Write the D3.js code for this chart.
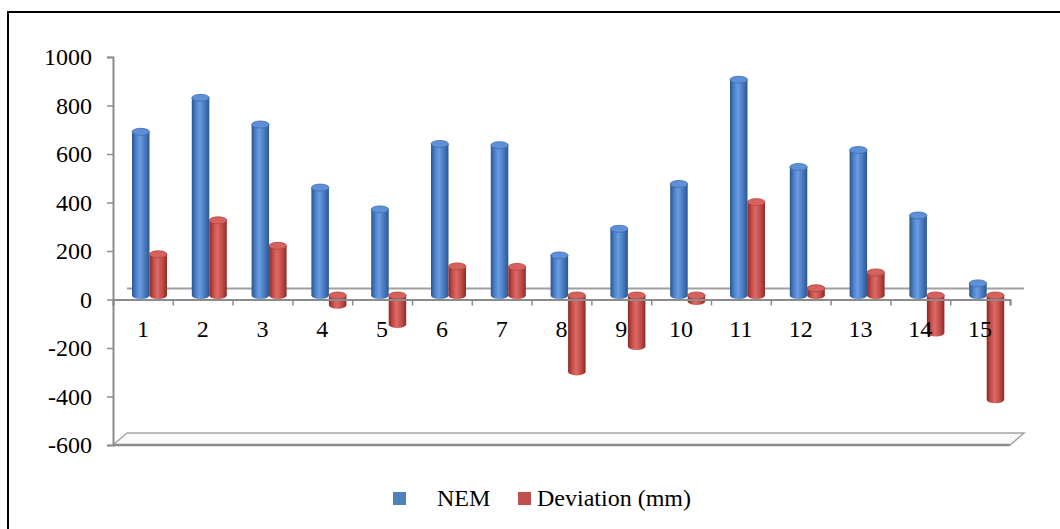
<!DOCTYPE html>
<html>
<head>
<meta charset="utf-8">
<script src="https://cdn.jsdelivr.net/npm/d3@7"></script>
<style>
  body { margin: 0; background: #fff; }
  svg { display: block; font-family: "Liberation Serif", "Times New Roman", serif; }
</style>
</head>
<body>
<svg id="chart" width="1060" height="529"></svg>
<script>
// data
const categories = ["1","2","3","4","5","6","7","8","9","10","11","12","13","14","15"];
const nem = [675, 815, 705, 445, 355, 625, 620, 165, 275, 460, 890, 530, 600, 330, 50];
const deviation = [170, 310, 205, -40, -120, 120, 118, -315, -210, -25, 385, 30, 95, -155, -430];
const yTicks = [-600, -400, -200, 0, 200, 400, 600, 800, 1000];
const seriesNames = ["NEM", "Deviation (mm)"];
const seriesColors = ["#4f81bd", "#c0504d"];

const svg = d3.select("#chart");
const W = 1060, H = 529;

// frame
svg.append("path")
    .attr("d", `M8,${H} L8,12 L${W},12`)
    .attr("fill", "none")
    .attr("stroke", "#000")
    .attr("stroke-width", 2);

let y = d3.scaleLinear().domain([-600, 1000]).range([445, 57]);
let yBar = d3.scaleLinear().domain(y.domain()).range(y.range().map(r => r - 4));
let x0 = d3.scaleBand().domain(categories).range([113, 1010]);
let x1 = d3.scaleBand().domain(seriesNames).range([19, 54]);
let xi = d3.scaleLinear().domain([0, categories.length]).range([113, 1010]);

// gradients
let defs = svg.append("defs");
function grad(id, stops) {
    let g = defs.append("linearGradient").attr("id", id)
        .attr("x1", "0%").attr("x2", "100%").attr("y1", "0%").attr("y2", "0%");
    stops.forEach(s => g.append("stop").attr("offset", s[0]).attr("stop-color", s[1]));
}
grad("g0", [["0%", "#2a5590"], ["25%", "#4f84cc"], ["45%", "#6a9de0"], ["75%", "#4677bd"], ["100%", "#2b5792"]]);
grad("g1", [["0%", "#8c2825"], ["25%", "#c9504c"], ["45%", "#dc6a66"], ["75%", "#bf4a46"], ["100%", "#8e2b28"]]);
const capColors = ["#5d90d6", "#d6625e"];

// floor slab
let dx = 14, dy = -12;
svg.append("path")
    .attr("d", `M${xi(0)},445 L${xi(15)},445 L${xi(15) + dx},${445 + dy} L${xi(0) + dx},${445 + dy} Z`)
    .attr("fill", "#fafafa")
    .attr("stroke", "#a6a6a6")
    .attr("stroke-width", 1.5);
svg.append("line")
    .attr("x1", xi(0)).attr("x2", xi(15))
    .attr("y1", 445).attr("y2", 445)
    .attr("stroke", "#8c8c8c").attr("stroke-width", 2.5);

// back-wall zero line
svg.append("line")
    .attr("x1", xi(0) + dx).attr("x2", xi(15) + dx)
    .attr("y1", y(0) + dy + 1).attr("y2", y(0) + dy + 1)
    .attr("stroke", "#a0a0a0").attr("stroke-width", 2);

// y axis
let yAxis = svg.append("g")
    .attr("transform", "translate(113,0)")
    .call(d3.axisLeft(y).tickValues(yTicks).tickFormat(d => String(d)).tickSize(6).tickPadding(15));
yAxis.select(".domain").attr("stroke", "#8c8c8c").attr("stroke-width", 2);
yAxis.selectAll(".tick line").attr("stroke", "#8c8c8c").attr("stroke-width", 1.5);
yAxis.selectAll(".tick text")
    .attr("font-family", "Liberation Serif").attr("font-size", 24).attr("fill", "#000");

// bars (cylinders)
const ry = 3.5;
let bars = svg.append("g");
categories.forEach((c, i) => {
    [nem[i], deviation[i]].forEach((v, s) => {
        let w = x1.bandwidth();
        let left = x0(c) + x1(seriesNames[s]);
        let cx = left + w / 2;
        let yTop = yBar(Math.max(v, 0));
        let yBot = yBar(Math.min(v, 0));
        let g = bars.append("g");
        g.append("ellipse")
            .attr("cx", cx).attr("cy", yBot).attr("rx", w / 2).attr("ry", ry)
            .attr("fill", `url(#g${s})`);
        g.append("rect")
            .attr("x", left).attr("y", yTop).attr("width", w).attr("height", Math.max(0, yBot - yTop))
            .attr("fill", `url(#g${s})`);
        g.append("ellipse")
            .attr("cx", cx).attr("cy", yTop).attr("rx", w / 2).attr("ry", ry)
            .attr("fill", capColors[s])
            .attr("stroke", s === 0 ? "#3e6eae" : "#b4423e").attr("stroke-width", 0.8);
    });
});

// category axis (front)
let tickAxis = svg.append("g")
    .attr("transform", `translate(0,${y(0)})`)
    .call(d3.axisBottom(xi).tickValues(d3.range(categories.length + 1)).tickFormat("").tickSize(6));
tickAxis.select(".domain").attr("stroke", "#8c8c8c").attr("stroke-width", 2);
tickAxis.selectAll(".tick line").attr("stroke", "#8c8c8c").attr("stroke-width", 1.5);

let catAxis = svg.append("g")
    .attr("transform", `translate(0,${y(0)})`)
    .call(d3.axisBottom(x0).tickSize(0).tickPadding(20));
catAxis.select(".domain").remove();
catAxis.selectAll(".tick text")
    .attr("font-family", "Liberation Serif").attr("font-size", 24).attr("fill", "#000");

// legend
let legendX = [393, 518];
let legendTextX = [437, 537];
let legend = svg.append("g");
seriesNames.forEach((n, s) => {
    legend.append("rect")
        .attr("x", legendX[s]).attr("y", 492).attr("width", 13).attr("height", 13)
        .attr("fill", seriesColors[s]);
    legend.append("text")
        .attr("x", legendTextX[s]).attr("y", 506)
        .attr("font-size", 24).attr("fill", "#000")
        .text(n);
});
</script>
</body>
</html>
